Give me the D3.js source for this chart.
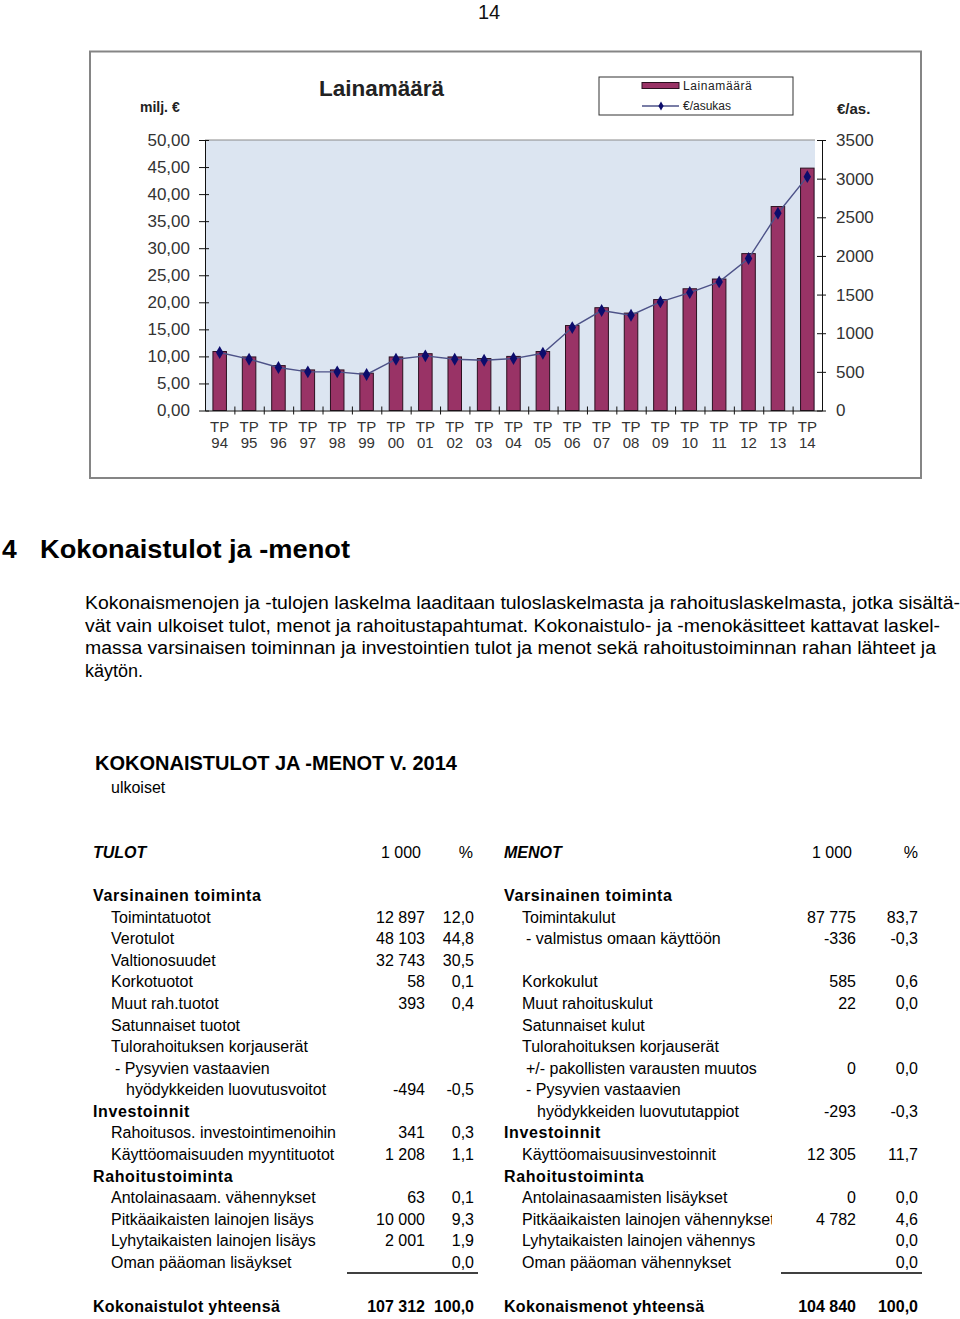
<!DOCTYPE html>
<html><head><meta charset="utf-8">
<script src="https://cdn.jsdelivr.net/npm/d3@7/dist/d3.min.js"></script>
<style>
html,body{margin:0;padding:0;background:#fff;}
svg{display:block;font-family:"Liberation Sans",Arial,Helvetica,sans-serif;}
</style></head><body>
<svg id="page" width="960" height="1319"></svg>
<script>
// ---------- chart data ----------
const years = ["94","95","96","97","98","99","00","01","02","03","04","05","06","07","08","09","10","11","12","13","14"];
const loanMillions = [10.9, 9.9, 8.3, 7.5, 7.5, 6.9, 9.9, 10.5, 9.9, 9.6, 10.0, 10.9, 15.7, 19.0, 18.0, 20.5, 22.5, 24.3, 29.0, 37.7, 44.8];
const eurPerCapita = [750, 664, 556, 500, 500, 466, 664, 707, 664, 651, 672, 741, 1073, 1293, 1233, 1405, 1526, 1664, 1966, 2552, 3026];
const leftTicks = [0,5,10,15,20,25,30,35,40,45,50];
const rightTicks = [0,500,1000,1500,2000,2500,3000,3500];

// ---------- table data ----------
const tuloLabels = ["Varsinainen toiminta","Toimintatuotot","Verotulot","Valtionosuudet","Korkotuotot","Muut rah.tuotot","Satunnaiset tuotot","Tulorahoituksen korjauserät","- Pysyvien vastaavien","hyödykkeiden luovutusvoitot","Investoinnit","Rahoitusos. investointimenoihin","Käyttöomaisuuden myyntituotot","Rahoitustoiminta","Antolainasaam. vähennykset","Pitkäaikaisten lainojen lisäys","Lyhytaikaisten lainojen lisäys","Oman pääoman lisäykset"];
const tuloKinds = ["head","item","item","item","item","item","item","item","sub","sub2","head","item","item","head","item","item","item","item"];
const tuloValues = ["","12 897","48 103","32 743","58","393","","","","-494","","341","1 208","","63","10 000","2 001",""];
const tuloPct = ["","12,0","44,8","30,5","0,1","0,4","","","","-0,5","","0,3","1,1","","0,1","9,3","1,9","0,0"];
const tuloTotal = ["Kokonaistulot yhteensä","107 312","100,0"];

const menoLabels = ["Varsinainen toiminta","Toimintakulut","- valmistus omaan käyttöön","","Korkokulut","Muut rahoituskulut","Satunnaiset kulut","Tulorahoituksen korjauserät","+/- pakollisten varausten muutos","- Pysyvien vastaavien","hyödykkeiden luovututappiot","Investoinnit","Käyttöomaisuusinvestoinnit","Rahoitustoiminta","Antolainasaamisten lisäykset","Pitkäaikaisten lainojen vähennykset","Lyhytaikaisten lainojen vähennys","Oman pääoman vähennykset"];
const menoKinds = ["head","item","sub","item","item","item","item","item","sub","sub","sub2","head","item","head","item","item","item","item"];
const menoValues = ["","87 775","-336","","585","22","","","0","","-293","","12 305","","0","4 782","",""];
const menoPct = ["","83,7","-0,3","","0,6","0,0","","","0,0","","-0,3","","11,7","","0,0","4,6","0,0","0,0"];
const menoTotal = ["Kokonaismenot yhteensä","104 840","100,0"];

const paragraph = [
  "Kokonaismenojen ja -tulojen laskelma laaditaan tuloslaskelmasta ja rahoituslaskelmasta, jotka sisältä-",
  "vät vain ulkoiset tulot, menot ja rahoitustapahtumat. Kokonaistulo- ja -menokäsitteet kattavat laskel-",
  "massa varsinaisen toiminnan ja investointien tulot ja menot sekä rahoitustoiminnan rahan lähteet ja",
  "käytön."
];
const paraWidths = [875, 855, 851, null];

// ---------- drawing ----------
const svg = d3.select("#page");

// page number
svg.append("text").attr("x",489).attr("y",19).attr("text-anchor","middle")
  .attr("font-size",20).attr("fill","#111").text("14");

// chart frame
svg.append("rect").attr("x",90).attr("y",51.5).attr("width",831).attr("height",426.5)
  .attr("fill","#fff").attr("stroke","#858585").attr("stroke-width",2);

const plotL = 205, plotR = 822, bgR = 815, plotT = 140, plotB = 410.5;
const x = d3.scaleBand().domain(years).range([plotL, plotR]).paddingInner(0.54).paddingOuter(0.27);
const xb = d3.scaleLinear().domain([0, years.length]).range([plotL, plotR]);
const yL = d3.scaleLinear().domain([0,50]).range([plotB, plotT]);
const yR = d3.scaleLinear().domain([0,3500]).range([plotB, plotT]);

svg.append("rect").attr("x",plotL).attr("y",plotT).attr("width",bgR-plotL).attr("height",plotB-plotT)
  .attr("fill","#dce5f1");
svg.append("line").attr("x1",plotL).attr("x2",bgR).attr("y1",plotT).attr("y2",plotT)
  .attr("stroke","#8a8a8a").attr("stroke-width",1);

// bars
svg.append("g").selectAll("rect").data(loanMillions).join("rect")
  .attr("x",(d,i)=>x(years[i])).attr("width",x.bandwidth())
  .attr("y",d=>yL(d)).attr("height",d=>yL(0)-yL(d))
  .attr("fill","#993366").attr("stroke","#2b1020").attr("stroke-width",1);

// line
const cx = i => x(years[i]) + x.bandwidth()/2;
svg.append("path").datum(eurPerCapita)
  .attr("d", d3.line().x((d,i)=>cx(i)).y(d=>yR(d)))
  .attr("fill","none").attr("stroke","#4d5288").attr("stroke-width",1.4);
svg.append("g").selectAll("path").data(eurPerCapita).join("path")
  .attr("transform",(d,i)=>`translate(${cx(i)},${yR(d)})`)
  .attr("d", d3.symbol(d3.symbolDiamond).size(48))
  .attr("fill","#0c0c6c");

// axes
const fmtL = d => d3.format(".2f")(d).replace(".", ",");
const gL = svg.append("g").attr("transform",`translate(${plotL},0)`)
  .call(d3.axisLeft(yL).tickValues(leftTicks).tickFormat(fmtL).tickSizeOuter(0));
gL.selectAll(".tick line").attr("x1",4).attr("x2",-6).attr("stroke","#111");
gL.selectAll(".tick text").attr("x",-15).attr("font-size",17).attr("fill","#333")
  .attr("font-family","Liberation Sans, Arial, sans-serif");
gL.select(".domain").attr("stroke","#111");

const gR = svg.append("g").attr("transform",`translate(${plotR},0)`)
  .call(d3.axisRight(yR).tickValues(rightTicks).tickFormat(d3.format("d")).tickSizeOuter(0));
gR.selectAll(".tick line").attr("x1",-5).attr("x2",4).attr("stroke","#111");
gR.selectAll(".tick text").attr("x",14).attr("font-size",17).attr("fill","#333")
  .attr("font-family","Liberation Sans, Arial, sans-serif");
gR.select(".domain").attr("stroke","#111");

const gB = svg.append("g").attr("transform",`translate(0,${plotB})`)
  .call(d3.axisBottom(xb).tickValues(d3.range(1, years.length)).tickFormat("").tickSizeOuter(0));
gB.selectAll(".tick line").attr("y1",-4).attr("y2",4).attr("stroke","#111");
gB.select(".domain").attr("stroke","#111");

const xl = svg.append("g").attr("font-size",15).attr("fill","#333").attr("text-anchor","middle");
years.forEach((yv,i)=>{
  xl.append("text").attr("x",cx(i)).attr("y",432).text("TP");
  xl.append("text").attr("x",cx(i)).attr("y",448).text(yv);
});

// titles
svg.append("text").attr("x",381.5).attr("y",96).attr("text-anchor","middle")
  .attr("font-size",22.5).attr("font-weight","bold").attr("fill","#222").text("Lainamäärä");
svg.append("text").attr("x",140).attr("y",112).attr("font-size",14).attr("font-weight","bold")
  .attr("fill","#222").text("milj. €");
svg.append("text").attr("x",837).attr("y",113.5).attr("font-size",15).attr("font-weight","bold")
  .attr("fill","#222").text("€/as.");

// legend
const lg = svg.append("g");
lg.append("rect").attr("x",599).attr("y",77).attr("width",194).attr("height",38)
  .attr("fill","#fff").attr("stroke","#333").attr("stroke-width",1);
lg.append("rect").attr("x",642).attr("y",82.5).attr("width",37).attr("height",6)
  .attr("fill","#993366").attr("stroke","#2b1020").attr("stroke-width",1);
lg.append("text").attr("x",683).attr("y",90).attr("font-size",12).attr("letter-spacing",0.6)
  .attr("fill","#222").text("Lainamäärä");
lg.append("line").attr("x1",642).attr("x2",679).attr("y1",106).attr("y2",106)
  .attr("stroke","#4d5288").attr("stroke-width",1.3);
lg.append("path").attr("transform","translate(661,106)")
  .attr("d", d3.symbol(d3.symbolDiamond).size(24)).attr("fill","#0c0c6c");
lg.append("text").attr("x",683).attr("y",110).attr("font-size",12)
  .attr("fill","#222").text("€/asukas");

// heading
svg.append("text").attr("x",2).attr("y",558).attr("font-size",26.5).attr("font-weight","bold")
  .attr("fill","#000").text("4");
svg.append("text").attr("x",40).attr("y",558).attr("font-size",26.5).attr("font-weight","bold")
  .attr("fill","#000").attr("textLength",310).attr("lengthAdjust","spacingAndGlyphs")
  .text("Kokonaistulot ja -menot");

// paragraph
const pY = d3.scaleLinear().domain([0,3]).range([609, 676.5]);
paragraph.forEach((line,i)=>{
  const t = svg.append("text").attr("x",85).attr("y",pY(i)).attr("font-size",18)
    .attr("fill","#000").text(line);
  if (paraWidths[i]) t.attr("textLength",paraWidths[i]).attr("lengthAdjust","spacingAndGlyphs");
});

// table title
svg.append("text").attr("x",95).attr("y",770).attr("font-size",20).attr("font-weight","bold")
  .attr("fill","#000").text("KOKONAISTULOT JA -MENOT V. 2014");
svg.append("text").attr("x",111).attr("y",793).attr("font-size",16).attr("fill","#000").text("ulkoiset");

// table headers
const hdr = svg.append("g").attr("font-size",16).attr("fill","#000");
hdr.append("text").attr("x",93).attr("y",858).attr("font-weight","bold").attr("font-style","italic").text("TULOT");
hdr.append("text").attr("x",421).attr("y",858).attr("text-anchor","end").text("1 000");
hdr.append("text").attr("x",473).attr("y",858).attr("text-anchor","end").text("%");
hdr.append("text").attr("x",504).attr("y",858).attr("font-weight","bold").attr("font-style","italic").text("MENOT");
hdr.append("text").attr("x",852).attr("y",858).attr("text-anchor","end").text("1 000");
hdr.append("text").attr("x",918).attr("y",858).attr("text-anchor","end").text("%");

// clip for right label column
svg.append("clipPath").attr("id","menoClip").append("rect")
  .attr("x",490).attr("y",860).attr("width",282).attr("height",440);

const rowY = d3.scaleLinear().domain([0,17]).range([901, 1268]);

function drawTable(labels, kinds, vals, pcts, total, x0, numR, pctR, lineX1, lineX2, clip) {
  const indent = {head:0, item:18, sub:22, sub2:33};
  const g = svg.append("g").attr("font-size",16).attr("fill","#000");
  const lblG = g.append("g");
  if (clip) lblG.attr("clip-path","url(#menoClip)");
  labels.forEach((lab,i)=>{
    if (!lab) return;
    const t = lblG.append("text").attr("x",x0 + indent[kinds[i]]).attr("y",rowY(i)).text(lab);
    if (kinds[i]==="head") t.attr("font-weight","bold").attr("letter-spacing",0.6);
  });
  vals.forEach((v,i)=>{
    if (!v) return;
    g.append("text").attr("x",numR).attr("y",rowY(i)).attr("text-anchor","end").text(v);
  });
  pcts.forEach((v,i)=>{
    if (!v) return;
    g.append("text").attr("x",pctR).attr("y",rowY(i)).attr("text-anchor","end").text(v);
  });
  g.append("line").attr("x1",lineX1).attr("x2",lineX2).attr("y1",1273).attr("y2",1273)
    .attr("stroke","#000").attr("stroke-width",1.5);
  const tg = g.append("g").attr("font-weight","bold");
  tg.append("text").attr("x",x0).attr("y",1312).attr("letter-spacing",0.3).text(total[0]);
  tg.append("text").attr("x",numR).attr("y",1312).attr("text-anchor","end").text(total[1]);
  tg.append("text").attr("x",pctR).attr("y",1312).attr("text-anchor","end").text(total[2]);
}
drawTable(tuloLabels, tuloKinds, tuloValues, tuloPct, tuloTotal, 93, 425, 474, 347, 478, false);
drawTable(menoLabels, menoKinds, menoValues, menoPct, menoTotal, 504, 856, 918, 781, 922, true);
</script>
</body></html>
